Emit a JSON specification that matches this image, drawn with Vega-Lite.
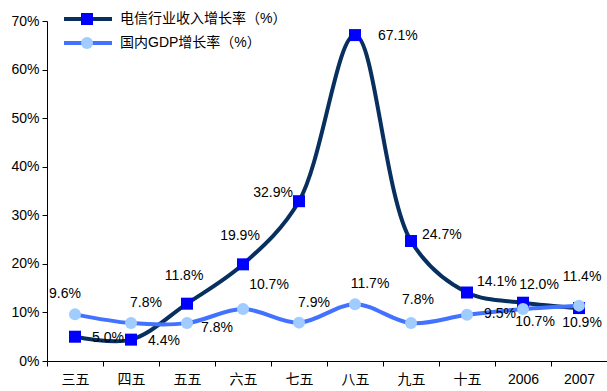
{
  "$schema": "https://vega.github.io/schema/vega-lite/v6.json",
  "width": 560,
  "height": 340,
  "autosize": "none",
  "padding": {"left": 47, "top": 21, "right": 0, "bottom": 30},
  "background": "white",
  "config": {
    "view": {"stroke": null},
    "font": "Liberation Sans, Noto Sans CJK SC",
    "text": {"font": "Liberation Sans, Noto Sans CJK SC", "fontSize": 14, "fill": "#000000", "baseline": "middle"},
    "axis": {
      "labelFont": "Liberation Sans, Noto Sans CJK SC",
      "labelFontSize": 14,
      "labelColor": "#000000",
      "domainColor": "#000000",
      "tickColor": "#000000",
      "tickSize": 5,
      "grid": false,
      "title": null
    },
    "legend": {
      "labelFont": "Liberation Sans, Noto Sans CJK SC",
      "labelFontSize": 14,
      "labelColor": "#000000",
      "labelLimit": 400,
      "padding": 0
    }
  },
  "data": {
    "values": [
      {"period": "三五", "series": "电信行业收入增长率（%）", "rate": 0.050},
      {"period": "四五", "series": "电信行业收入增长率（%）", "rate": 0.044},
      {"period": "五五", "series": "电信行业收入增长率（%）", "rate": 0.118},
      {"period": "六五", "series": "电信行业收入增长率（%）", "rate": 0.199},
      {"period": "七五", "series": "电信行业收入增长率（%）", "rate": 0.329},
      {"period": "八五", "series": "电信行业收入增长率（%）", "rate": 0.671},
      {"period": "九五", "series": "电信行业收入增长率（%）", "rate": 0.247},
      {"period": "十五", "series": "电信行业收入增长率（%）", "rate": 0.141},
      {"period": "2006", "series": "电信行业收入增长率（%）", "rate": 0.120},
      {"period": "2007", "series": "电信行业收入增长率（%）", "rate": 0.109},
      {"period": "三五", "series": "国内GDP增长率（%）", "rate": 0.096},
      {"period": "四五", "series": "国内GDP增长率（%）", "rate": 0.078},
      {"period": "五五", "series": "国内GDP增长率（%）", "rate": 0.078},
      {"period": "六五", "series": "国内GDP增长率（%）", "rate": 0.107},
      {"period": "七五", "series": "国内GDP增长率（%）", "rate": 0.079},
      {"period": "八五", "series": "国内GDP增长率（%）", "rate": 0.117},
      {"period": "九五", "series": "国内GDP增长率（%）", "rate": 0.078},
      {"period": "十五", "series": "国内GDP增长率（%）", "rate": 0.095},
      {"period": "2006", "series": "国内GDP增长率（%）", "rate": 0.107},
      {"period": "2007", "series": "国内GDP增长率（%）", "rate": 0.114}
    ]
  },
  "encoding": {
    "x": {
      "field": "period",
      "type": "ordinal",
      "sort": ["三五", "四五", "五五", "六五", "七五", "八五", "九五", "十五", "2006", "2007"],
      "scale": {"type": "band", "paddingInner": 0, "paddingOuter": 0},
      "axis": {"labelAngle": 0, "tickBand": "extent", "labelPadding": 6}
    },
    "y": {
      "field": "rate",
      "type": "quantitative",
      "scale": {"domain": [0, 0.7], "nice": false, "zero": true},
      "axis": {"values": [0, 0.1, 0.2, 0.3, 0.4, 0.5, 0.6, 0.7], "format": ".0%", "labelPadding": 3}
    }
  },
  "layer": [
    {
      "mark": {"type": "line", "interpolate": "catmull-rom", "strokeWidth": 4},
      "encoding": {
        "stroke": {
          "field": "series",
          "type": "nominal",
          "sort": null,
          "scale": {"range": ["#08305E", "#4272FF"]},
          "legend": {
            "orient": "none",
            "legendX": 33,
            "legendY": -10,
            "title": null,
            "symbolType": "M-4,0H4",
            "symbolSize": 144,
            "symbolStrokeWidth": 4,
            "labelOffset": 24,
            "rowPadding": 8,
            "zindex": 1
          }
        }
      }
    },
    {
      "mark": {"type": "point", "filled": true, "size": 144, "opacity": 1, "strokeWidth": 0},
      "encoding": {
        "fill": {
          "field": "series",
          "type": "nominal",
          "scale": {"domain": ["电信行业收入增长率（%）", "国内GDP增长率（%）"], "range": ["#0000FF", "#A0CCFF"]},
          "legend": {
            "orient": "none",
            "legendX": 33,
            "legendY": -9,
            "title": null,
            "symbolSize": 144,
            "symbolStrokeWidth": 0,
            "symbolOpacity": 1,
            "labelExpr": "''",
            "rowPadding": 10,
            "zindex": 2
          }
        },
        "shape": {
          "field": "series",
          "type": "nominal",
          "scale": {"domain": ["电信行业收入增长率（%）", "国内GDP增长率（%）"], "range": ["square", "circle"]}
        }
      }
    },
    {
      "transform": [{"filter": {"and": [{"field": "series", "equal": "电信行业收入增长率（%）"}, {"field": "period", "oneOf": ["三五", "四五"]}]}}],
      "mark": {"type": "text", "align": "left", "dx": 17, "dy": 1},
      "encoding": {"text": {"field": "rate", "type": "quantitative", "format": ".1%"}}
    },
    {
      "transform": [{"filter": {"and": [{"field": "series", "equal": "电信行业收入增长率（%）"}, {"field": "period", "oneOf": ["五五", "六五"]}]}}],
      "mark": {"type": "text", "align": "center", "dx": -3, "dy": -28},
      "encoding": {"text": {"field": "rate", "type": "quantitative", "format": ".1%"}}
    },
    {
      "transform": [{"filter": {"and": [{"field": "series", "equal": "电信行业收入增长率（%）"}, {"field": "period", "equal": "七五"}]}}],
      "mark": {"type": "text", "align": "right", "dx": -6, "dy": -8},
      "encoding": {"text": {"field": "rate", "type": "quantitative", "format": ".1%"}}
    },
    {
      "transform": [{"filter": {"and": [{"field": "series", "equal": "电信行业收入增长率（%）"}, {"field": "period", "equal": "八五"}]}}],
      "mark": {"type": "text", "align": "left", "dx": 23, "dy": 1},
      "encoding": {"text": {"field": "rate", "type": "quantitative", "format": ".1%"}}
    },
    {
      "transform": [{"filter": {"and": [{"field": "series", "equal": "电信行业收入增长率（%）"}, {"field": "period", "equal": "九五"}]}}],
      "mark": {"type": "text", "align": "left", "dx": 11, "dy": -6},
      "encoding": {"text": {"field": "rate", "type": "quantitative", "format": ".1%"}}
    },
    {
      "transform": [{"filter": {"and": [{"field": "series", "equal": "电信行业收入增长率（%）"}, {"field": "period", "equal": "十五"}]}}],
      "mark": {"type": "text", "align": "left", "dx": 10, "dy": -11},
      "encoding": {"text": {"field": "rate", "type": "quantitative", "format": ".1%"}}
    },
    {
      "transform": [{"filter": {"and": [{"field": "series", "equal": "电信行业收入增长率（%）"}, {"field": "period", "equal": "2006"}]}}],
      "mark": {"type": "text", "align": "center", "dx": 16, "dy": -18},
      "encoding": {"text": {"field": "rate", "type": "quantitative", "format": ".1%"}}
    },
    {
      "transform": [{"filter": {"and": [{"field": "series", "equal": "电信行业收入增长率（%）"}, {"field": "period", "equal": "2007"}]}}],
      "mark": {"type": "text", "align": "center", "dx": 3, "dy": 15},
      "encoding": {"text": {"field": "rate", "type": "quantitative", "format": ".1%"}}
    },
    {
      "transform": [{"filter": {"and": [{"field": "series", "equal": "国内GDP增长率（%）"}, {"field": "period", "equal": "三五"}]}}],
      "mark": {"type": "text", "align": "center", "dx": -10, "dy": -20},
      "encoding": {"text": {"field": "rate", "type": "quantitative", "format": ".1%"}}
    },
    {
      "transform": [{"filter": {"and": [{"field": "series", "equal": "国内GDP增长率（%）"}, {"field": "period", "oneOf": ["四五", "七五", "八五"]}]}}],
      "mark": {"type": "text", "align": "center", "dx": 15, "dy": -20},
      "encoding": {"text": {"field": "rate", "type": "quantitative", "format": ".1%"}}
    },
    {
      "transform": [{"filter": {"and": [{"field": "series", "equal": "国内GDP增长率（%）"}, {"field": "period", "equal": "九五"}]}}],
      "mark": {"type": "text", "align": "center", "dx": 7, "dy": -23},
      "encoding": {"text": {"field": "rate", "type": "quantitative", "format": ".1%"}}
    },
    {
      "transform": [{"filter": {"and": [{"field": "series", "equal": "国内GDP增长率（%）"}, {"field": "period", "equal": "五五"}]}}],
      "mark": {"type": "text", "align": "left", "dx": 14, "dy": 5},
      "encoding": {"text": {"field": "rate", "type": "quantitative", "format": ".1%"}}
    },
    {
      "transform": [{"filter": {"and": [{"field": "series", "equal": "国内GDP增长率（%）"}, {"field": "period", "equal": "六五"}]}}],
      "mark": {"type": "text", "align": "center", "dx": 26, "dy": -24},
      "encoding": {"text": {"field": "rate", "type": "quantitative", "format": ".1%"}}
    },
    {
      "transform": [{"filter": {"and": [{"field": "series", "equal": "国内GDP增长率（%）"}, {"field": "period", "equal": "十五"}]}}],
      "mark": {"type": "text", "align": "left", "dx": 17, "dy": -1},
      "encoding": {"text": {"field": "rate", "type": "quantitative", "format": ".1%"}}
    },
    {
      "transform": [{"filter": {"and": [{"field": "series", "equal": "国内GDP增长率（%）"}, {"field": "period", "equal": "2006"}]}}],
      "mark": {"type": "text", "align": "center", "dx": 12, "dy": 13},
      "encoding": {"text": {"field": "rate", "type": "quantitative", "format": ".1%"}}
    },
    {
      "transform": [{"filter": {"and": [{"field": "series", "equal": "国内GDP增长率（%）"}, {"field": "period", "equal": "2007"}]}}],
      "mark": {"type": "text", "align": "center", "dx": 3, "dy": -29},
      "encoding": {"text": {"field": "rate", "type": "quantitative", "format": ".1%"}}
    }
  ]
}
